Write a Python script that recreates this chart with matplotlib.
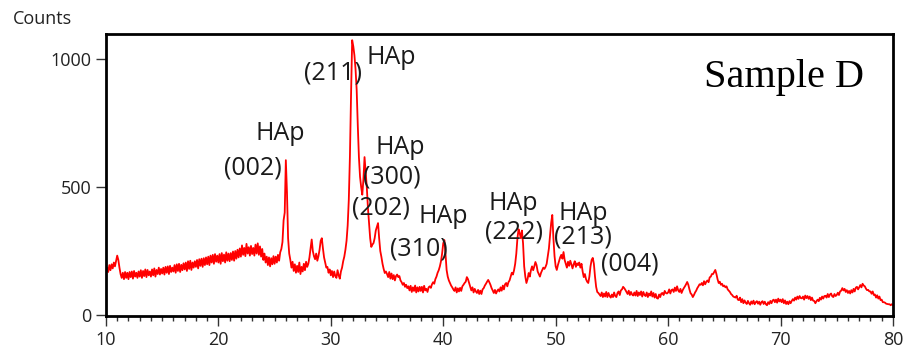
import numpy as np
import matplotlib
matplotlib.use('Agg')
import matplotlib.pyplot as plt
from matplotlib.ticker import MultipleLocator

# 2theta scan, 0.1 deg step, 10 -> 80
two_theta = np.round(np.arange(10.0, 80.05, 0.1), 1)

# counts, one row per degree (x.0 ... x.9)
counts_rows = [
    [165, 185, 168, 195, 175, 198, 182, 205, 190, 212],   # 10
    [232, 215, 185, 160, 145, 165, 140, 168, 145, 165],   # 11
    [140, 168, 148, 170, 142, 172, 150, 165, 145, 170],   # 12
    [150, 175, 145, 172, 152, 178, 148, 176, 155, 170],   # 13
    [150, 178, 155, 182, 150, 176, 160, 185, 158, 180],   # 14
    [162, 185, 158, 188, 165, 190, 160, 192, 168, 185],   # 15
    [170, 195, 165, 198, 172, 200, 168, 196, 175, 202],   # 16
    [178, 205, 172, 210, 180, 212, 176, 205, 185, 210],   # 17
    [188, 215, 182, 218, 192, 220, 188, 222, 195, 225],   # 18
    [198, 228, 195, 232, 205, 235, 200, 238, 208, 232],   # 19
    [205, 238, 200, 242, 210, 236, 205, 245, 212, 240],   # 20
    [210, 242, 215, 248, 212, 250, 220, 255, 225, 260],   # 21
    [228, 272, 235, 262, 230, 278, 240, 265, 232, 270],   # 22
    [238, 262, 232, 275, 240, 280, 235, 268, 228, 258],   # 23
    [215, 240, 205, 228, 195, 225, 190, 222, 198, 230],   # 24
    [200, 228, 205, 235, 212, 245, 258, 285, 370, 400],   # 25
    [605, 480, 300, 240, 215, 185, 208, 172, 198, 165],   # 26
    [192, 168, 205, 160, 188, 170, 200, 175, 208, 188],   # 27
    [200, 225, 260, 295, 250, 230, 218, 240, 212, 230],   # 28
    [255, 290, 300, 260, 225, 205, 185, 188, 165, 178],   # 29
    [155, 172, 148, 170, 152, 145, 175, 155, 142, 170],   # 30
    [185, 210, 228, 255, 290, 350, 450, 620, 860, 1074],  # 31
    [1050, 1015, 960, 880, 740, 617, 540, 500, 470, 530], # 32
    [617, 560, 500, 420, 359, 300, 266, 275, 281, 300],   # 33
    [330, 345, 359, 300, 250, 227, 200, 180, 164, 170],   # 34
    [160, 148, 168, 142, 162, 140, 156, 135, 152, 158],   # 35
    [148, 152, 135, 128, 118, 125, 110, 118, 105, 112],   # 36
    [96, 114, 90, 108, 94, 115, 88, 108, 92, 110],        # 37
    [94, 110, 88, 114, 96, 102, 90, 108, 112, 106],       # 38
    [120, 128, 122, 140, 150, 165, 175, 190, 210, 240],   # 39
    [280, 293, 240, 176, 150, 135, 125, 115, 108, 100],   # 40
    [94, 108, 88, 104, 92, 106, 94, 112, 118, 125],       # 41
    [130, 148, 140, 125, 110, 96, 108, 88, 102, 92],      # 42
    [86, 98, 82, 95, 82, 100, 105, 115, 122, 130],        # 43
    [137, 128, 118, 105, 96, 86, 98, 84, 94, 100],        # 44
    [92, 108, 95, 115, 100, 120, 125, 112, 128, 135],     # 45
    [150, 165, 158, 175, 200, 240, 300, 335, 320, 300],   # 46
    [330, 280, 190, 150, 125, 140, 164, 150, 175, 190],   # 47
    [175, 190, 207, 195, 170, 160, 150, 165, 175, 185],   # 48
    [180, 188, 200, 230, 260, 310, 360, 391, 300, 230],   # 49
    [190, 176, 195, 210, 225, 235, 220, 246, 215, 200],   # 50
    [185, 208, 192, 212, 198, 182, 198, 210, 188, 202],   # 51
    [195, 205, 185, 200, 170, 148, 160, 140, 130, 125],   # 52
    [150, 190, 215, 223, 200, 150, 110, 90, 86, 80],      # 53
    [74, 88, 70, 84, 72, 90, 70, 86, 74, 68],             # 54
    [80, 70, 88, 74, 70, 86, 92, 78, 96, 100],            # 55
    [110, 105, 98, 90, 82, 95, 78, 90, 80, 76],           # 56
    [88, 76, 94, 74, 88, 78, 92, 72, 90, 78],             # 57
    [74, 88, 70, 84, 76, 92, 72, 86, 68, 82],             # 58
    [66, 64, 80, 70, 84, 86, 78, 94, 86, 84],             # 59
    [88, 100, 84, 97, 100, 90, 107, 94, 112, 96],         # 60
    [90, 102, 86, 97, 105, 112, 120, 129, 118, 100],      # 61
    [85, 80, 70, 78, 88, 95, 105, 112, 120, 118],         # 62
    [125, 116, 132, 120, 130, 135, 128, 147, 150, 160],   # 63
    [160, 168, 176, 160, 140, 125, 130, 118, 122, 112],   # 64
    [115, 108, 112, 100, 95, 90, 82, 78, 72, 70],         # 65
    [68, 75, 60, 58, 68, 50, 62, 46, 57, 48],             # 66
    [43, 55, 46, 40, 53, 44, 56, 42, 50, 54],             # 67
    [44, 52, 40, 50, 54, 43, 52, 42, 38, 50],             # 68
    [43, 55, 46, 57, 60, 50, 60, 48, 64, 53],             # 69
    [60, 50, 62, 46, 57, 43, 52, 42, 54, 46],             # 70
    [55, 62, 56, 68, 60, 72, 63, 74, 66, 65],             # 71
    [72, 60, 76, 66, 74, 63, 72, 58, 68, 56],             # 72
    [55, 46, 54, 60, 54, 67, 60, 72, 64, 74],             # 73
    [75, 68, 82, 70, 80, 84, 73, 70, 82, 74],             # 74
    [78, 87, 78, 92, 95, 105, 96, 102, 90, 97],           # 75
    [86, 94, 84, 97, 88, 102, 92, 107, 110, 100],         # 76
    [108, 117, 108, 122, 115, 112, 103, 97, 98, 92],      # 77
    [92, 83, 92, 78, 80, 68, 77, 64, 72, 58],             # 78
    [60, 50, 50, 48, 44, 43, 42, 42, 38, 42],             # 79
    [39],                                                 # 80
]
counts = np.array([c for row in counts_rows for c in row], dtype=float)

# peak labels: (text, 2theta, counts)
labels = [
    ("HAp", 25.48, 711), ("(002)", 23.07, 574),
    ("(211)", 30.19, 945), ("HAp", 35.35, 1008),
    ("HAp", 36.15, 656), ("(300)", 35.44, 539),
    ("(202)", 34.46, 418),
    ("HAp", 39.97, 383), ("(310)", 37.84, 258),
    ("HAp", 46.2, 437), ("(222)", 46.29, 324),
    ("HAp", 52.43, 395), ("(213)", 52.43, 303),
    ("(004)", 56.61, 199),
]

plt.rcParams['font.family'] = ['Open Sans', 'DejaVu Sans']

fig = plt.figure(figsize=(9.08, 3.51), dpi=100)
ax = fig.add_axes([0.1167, 0.0997, 0.8667, 0.8034])

ax.plot(two_theta, counts, color='#ff0000', linewidth=1.3)

ax.set_xlim(10, 80)
ax.set_ylim(-4, 1098)
ax.set_xticks([10, 20, 30, 40, 50, 60, 70, 80])
ax.set_yticks([0, 500, 1000])
ax.xaxis.set_minor_locator(MultipleLocator(1))

for s in ax.spines.values():
    s.set_linewidth(2)
    s.set_color('black')
ax.tick_params(axis='both', which='major', direction='out', length=7, width=1,
               labelsize=13, colors='#333333', labelcolor='#222222')
ax.tick_params(axis='x', which='minor', direction='out', length=3.5, width=1, colors='#333333')

for txt, x, y in labels:
    ax.text(x, y, txt, fontsize=18, ha='center', va='center', color='#1a1a1a')

ax.text(70.3, 930, "Sample D", fontsize=29, ha='center', va='center',
        family='Liberation Serif', color='black')

fig.text(42 / 908, 1 - 19 / 351, "Counts", fontsize=13, ha='center', va='center', color='#222222')

fig.savefig('out.png', dpi=100)
